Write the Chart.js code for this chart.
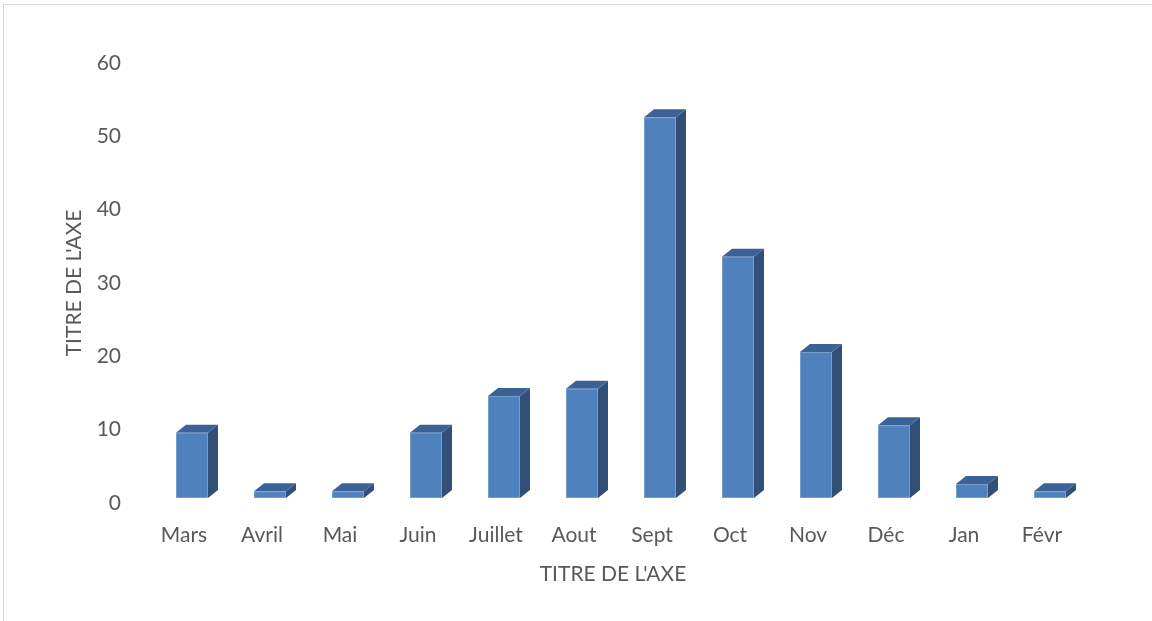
<!DOCTYPE html>
<html>
<head>
<meta charset="utf-8">
<script src="https://cdn.jsdelivr.net/npm/chart.js@4/dist/chart.umd.min.js"></script>
<style>
  html, body { margin: 0; padding: 0; background: #fff; overflow: hidden; }
  #frame { position: absolute; left: 3px; top: 4px; width: 1200px; height: 700px; border: 1px solid #d9d9d9; }
  #wrap { position: absolute; left: 0; top: 0; width: 1152px; height: 621px; }
</style>
</head>
<body>
<div id="frame"></div>
<div id="wrap"><canvas id="myChart"></canvas></div>
<script>
const months = ["Mars", "Avril", "Mai", "Juin", "Juillet", "Aout", "Sept", "Oct", "Nov", "Déc", "Jan", "Févr"];
const counts = [10, 2, 2, 10, 15, 16, 53, 34, 21, 11, 3, 2];
const yTicks = [0, 10, 20, 30, 40, 50, 60];
const axisTitle = "TITRE DE L'AXE";

// faces of the pseudo-3D columns
const FRONT = '#4F81BD';
const TOP = '#3B6296';
const SIDE = '#314F77';
const DX = 10, DY = 8;      // depth of the column
const OX = 8, OY = -5;      // perspective shift of the whole column off the axis plane

const bar3d = {
    id: 'bar3d',
    afterDatasetsDraw: function(chart) {
        const ctx = chart.ctx;
        chart.getDatasetMeta(0).data.forEach(function(bar) {
            const p = bar.getProps(['x', 'y', 'base', 'width'], true);
            const l = p.x - p.width / 2 + OX;
            const r = p.x + p.width / 2 + OX;
            const top = p.y + OY;
            const base = p.base + OY;
            const ft = top + DY;
            ctx.save();
            ctx.fillStyle = SIDE;
            ctx.beginPath();
            ctx.moveTo(r, ft);
            ctx.lineTo(r + DX, top);
            ctx.lineTo(r + DX, base - DY);
            ctx.lineTo(r, base);
            ctx.closePath();
            ctx.fill();
            ctx.fillStyle = TOP;
            ctx.beginPath();
            ctx.moveTo(l, ft);
            ctx.lineTo(l + DX, top);
            ctx.lineTo(r + DX, top);
            ctx.lineTo(r, ft);
            ctx.closePath();
            ctx.fill();
            ctx.fillStyle = FRONT;
            ctx.fillRect(l, ft, p.width, base - ft);
            ctx.strokeStyle = 'rgba(150,182,222,0.55)';
            ctx.lineWidth = 1;
            ctx.strokeRect(l + 0.5, ft + 0.5, p.width - 1, base - ft - 1);
            ctx.restore();
        });
    }
};

const ctx = document.getElementById("myChart").getContext('2d');
const textFont = { family: 'Lato', size: 21 };

const myChart = new Chart(ctx, {
    type: 'bar',
    data: {
        labels: months,
        datasets: [{
            label: "Série",
            data: counts,
            backgroundColor: 'rgba(0,0,0,0)',
            borderWidth: 0,
            barPercentage: 0.41,
            categoryPercentage: 1
        }]
    },
    options: {
        responsive: true,
        maintainAspectRatio: false,
        animation: false,
        events: [],
        layout: { padding: { left: 0, right: 71, top: 63, bottom: 0 } },
        plugins: {
            legend: { display: false },
            tooltip: { enabled: false }
        },
        scales: {
            x: {
                grid: { display: false, drawTicks: false },
                border: { display: false },
                ticks: { color: '#595959', font: textFont, padding: 20, maxRotation: 0 },
                title: { display: true, text: axisTitle, color: '#595959', font: textFont, padding: { top: 0, bottom: 34 } },
                afterFit: function(s) { s.height = 118; }
            },
            y: {
                min: 0,
                max: 60,
                grid: { display: false, drawTicks: false },
                border: { display: false },
                afterBuildTicks: function(s) { s.ticks = yTicks.map(v => ({ value: v })); },
                ticks: { color: '#595959', font: textFont, padding: 24 },
                title: { display: true, text: axisTitle, color: '#595959', font: textFont, padding: { top: 62, bottom: 0 } },
                afterFit: function(s) { s.width = 145; }
            }
        }
    },
    plugins: [bar3d]
});
</script>
</body>
</html>
